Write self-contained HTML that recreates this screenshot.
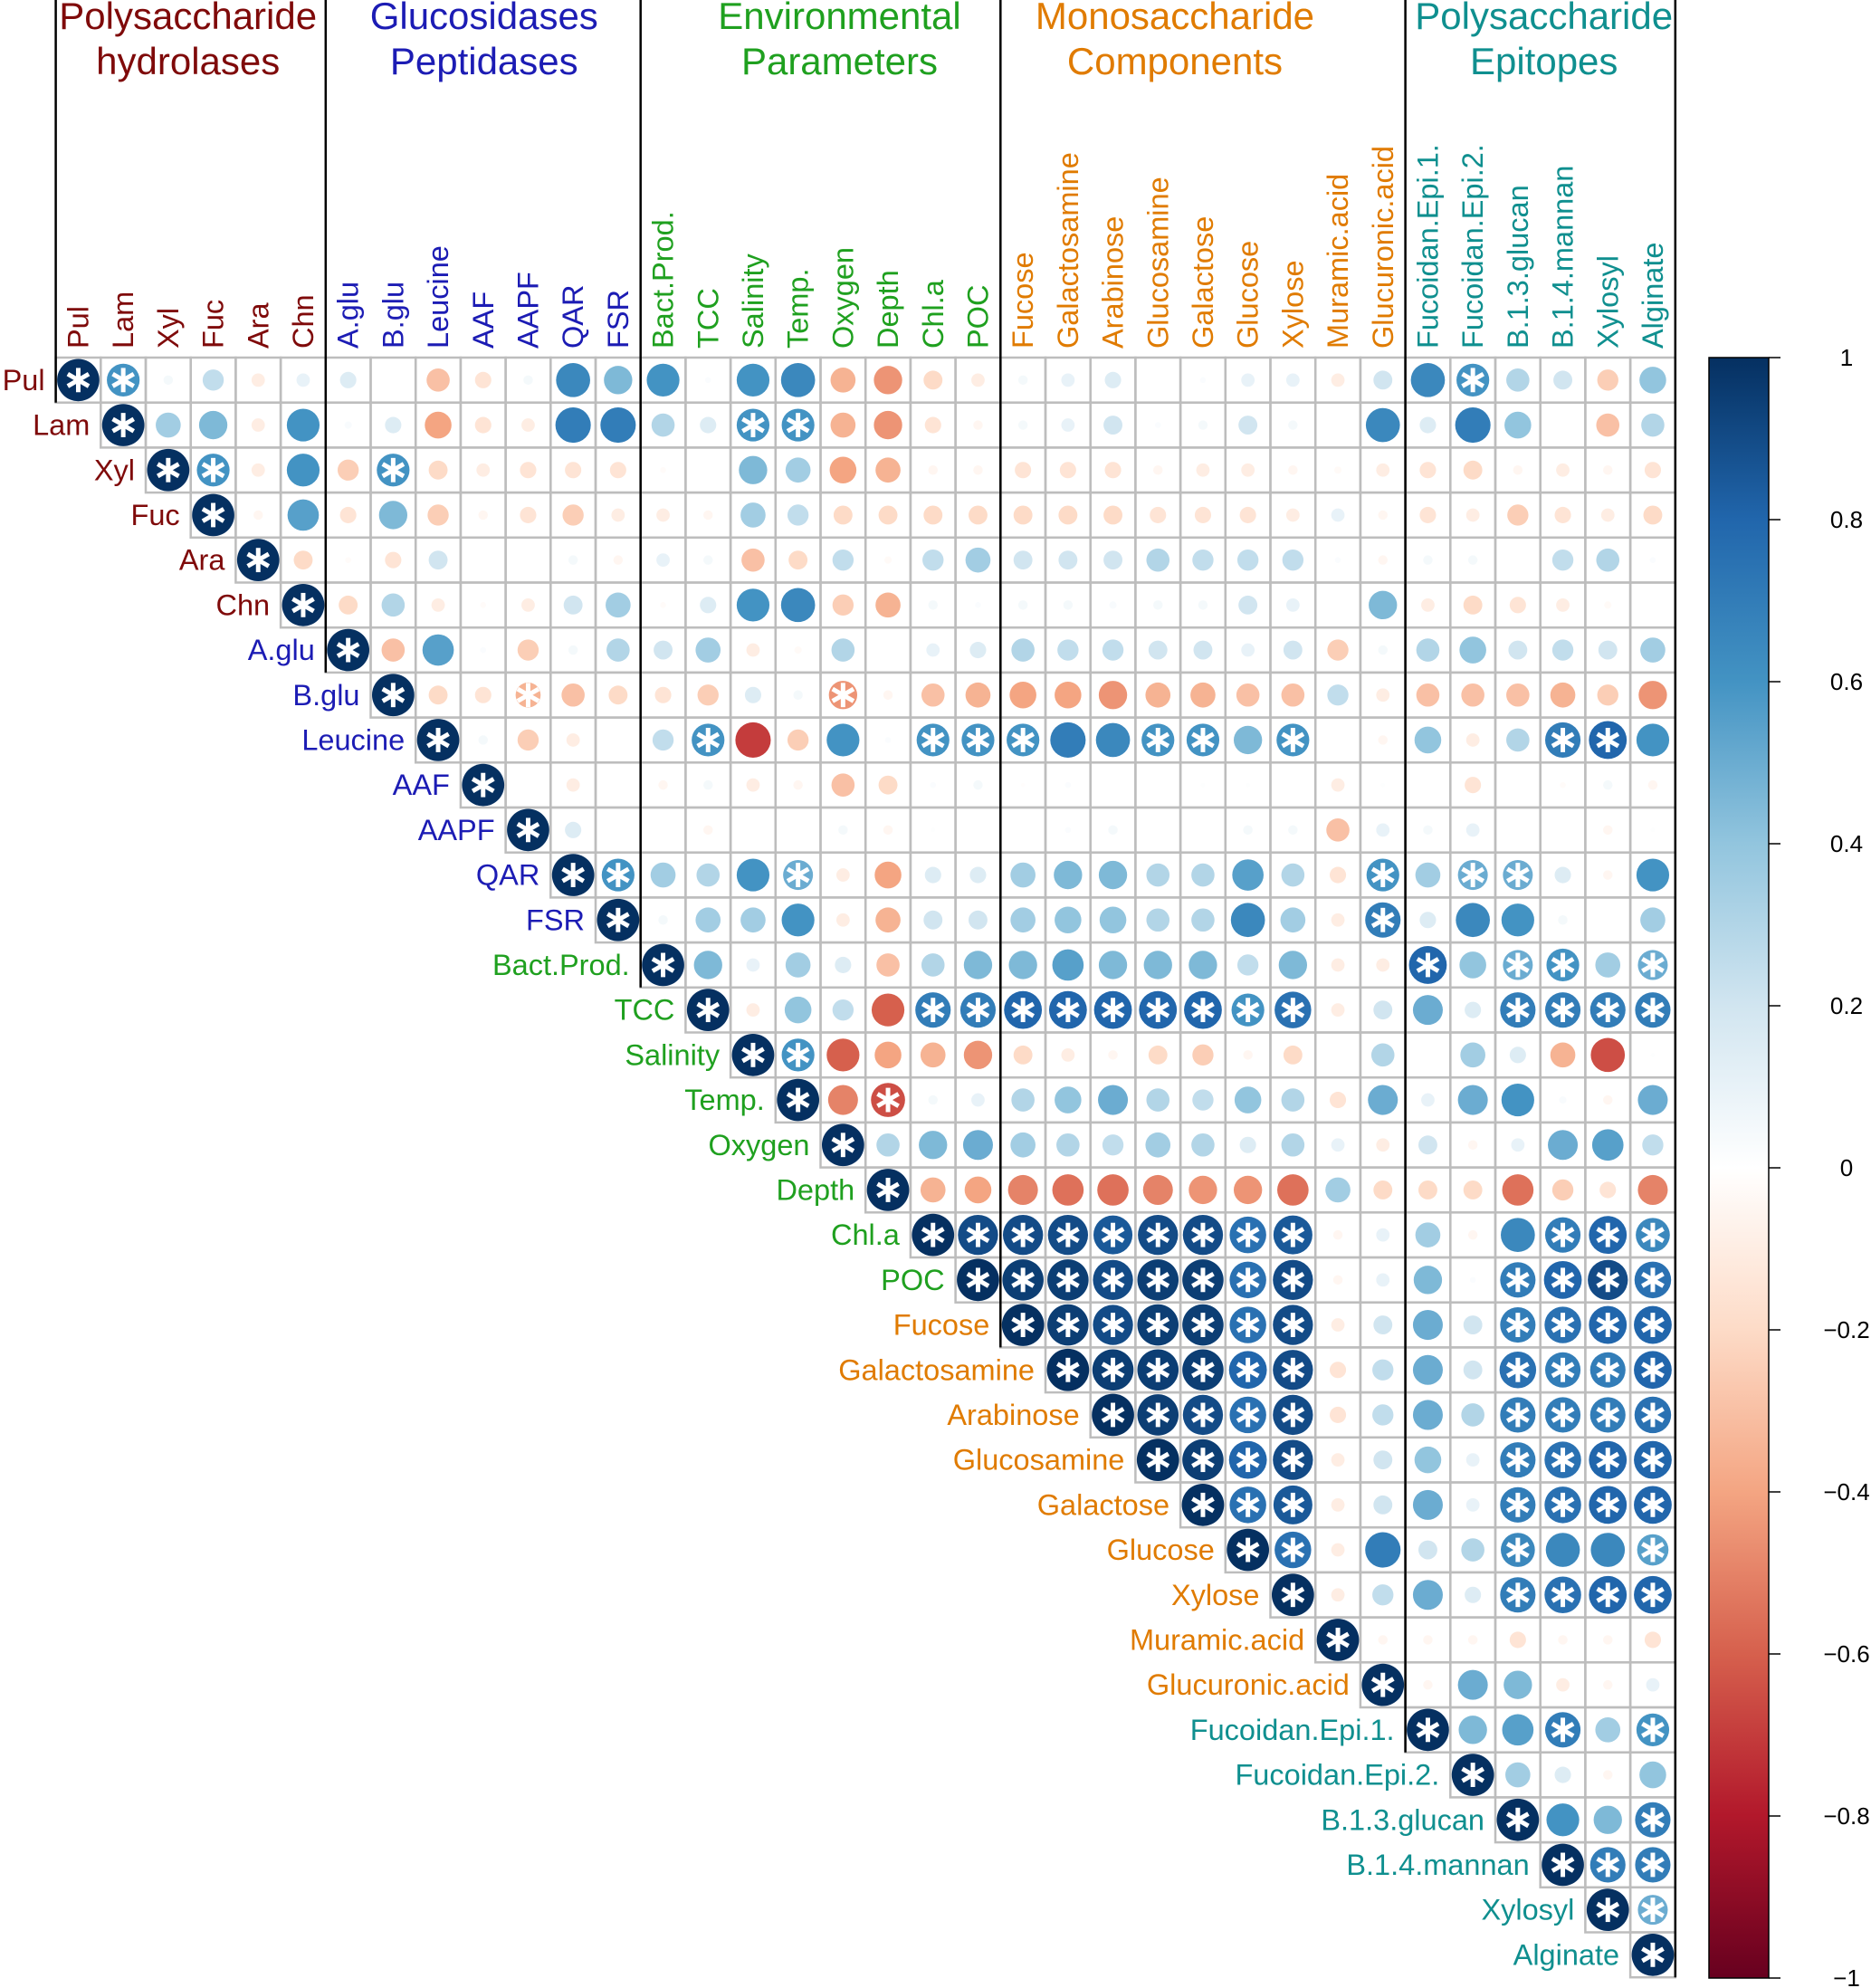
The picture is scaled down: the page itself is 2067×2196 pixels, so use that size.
<!DOCTYPE html>
<html><head><meta charset="utf-8"><style>
html,body{margin:0;padding:0;background:#fff;}
svg{display:block;font-family:"Liberation Sans",Arial,sans-serif;}
</style></head><body>
<svg id="chart" width="2067" height="2196" viewBox="0 0 2067 2196" xmlns="http://www.w3.org/2000/svg"></svg>
<script>
const labels = ["Pul","Lam","Xyl","Fuc","Ara","Chn","A.glu","B.glu","Leucine","AAF","AAPF","QAR","FSR","Bact.Prod.","TCC","Salinity","Temp.","Oxygen","Depth","Chl.a","POC","Fucose","Galactosamine","Arabinose","Glucosamine","Galactose","Glucose","Xylose","Muramic.acid","Glucuronic.acid","Fucoidan.Epi.1.","Fucoidan.Epi.2.","B.1.3.glucan","B.1.4.mannan","Xylosyl","Alginate"];
const groupNames = [["Polysaccharide","hydrolases"],["Glucosidases","Peptidases"],["Environmental","Parameters"],["Monosaccharide","Components"],["Polysaccharide","Epitopes"]];
const groupStarts = [0,6,13,21,30,36];
const groupColors = ["#7f0a0a","#1c1cb4","#1fa01f","#e07b00","#0f8f8f"];
const colorTicks = [1,0.8,0.6,0.4,0.2,0,-0.2,-0.4,-0.6,-0.8,-1];
// upper-triangle correlations, row i lists columns i+1..35
const corrRows = [
[0.6,0.05,0.25,-0.1,0.1,0.15,0,-0.3,-0.15,0.05,0.65,0.45,0.6,0.02,0.6,0.65,-0.35,-0.45,-0.2,-0.1,0.05,0.1,0.15,0,0.02,0.1,0.1,-0.1,0.2,0.65,0.6,0.3,0.2,-0.25,0.4],
[0.35,0.45,-0.1,0.6,0.03,0.15,-0.4,-0.15,-0.1,0.7,0.7,0.3,0.15,0.6,0.6,-0.35,-0.45,-0.15,-0.05,0.05,0.1,0.2,0.02,0.05,0.2,0.05,0,0.65,0.15,0.7,0.4,0,-0.3,0.3],
[0.6,-0.1,0.6,-0.25,0.6,-0.2,-0.1,-0.15,-0.15,-0.15,-0.02,0,0.45,0.35,-0.4,-0.35,-0.05,-0.05,-0.15,-0.15,-0.15,-0.05,-0.1,-0.1,-0.05,-0.03,-0.1,-0.15,-0.2,-0.05,-0.1,-0.05,-0.15],
[-0.05,0.55,-0.15,0.45,-0.25,-0.05,-0.15,-0.25,-0.1,-0.1,-0.05,0.35,0.25,-0.2,-0.2,-0.2,-0.2,-0.2,-0.2,-0.2,-0.15,-0.15,-0.15,-0.1,0.1,-0.05,-0.15,-0.1,-0.25,-0.15,-0.1,-0.2],
[-0.2,-0.02,-0.15,0.2,0,0,0.05,-0.05,0.1,0.05,-0.3,-0.2,0.25,-0.03,0.25,0.35,0.2,0.2,0.2,0.3,0.25,0.25,0.25,0.02,-0.05,0.05,0.05,0,0.25,0.3,0.02],
[-0.2,0.3,-0.1,-0.02,-0.1,0.2,0.35,-0.02,0.15,0.6,0.65,-0.25,-0.35,0.05,0.02,0.05,0.05,0.03,0.05,0.05,0.2,0.1,0,0.45,-0.1,-0.2,-0.15,-0.1,-0.03,0],
[-0.3,0.55,0.02,-0.25,0.05,0.3,0.2,0.35,-0.1,-0.03,0.3,0,0.1,0.15,0.3,0.25,0.25,0.2,0.2,0.1,0.2,-0.25,0.05,0.3,0.4,0.2,0.25,0.2,0.35],
[-0.2,-0.15,-0.35,-0.3,-0.2,-0.15,-0.25,0.15,0.05,-0.45,-0.05,-0.3,-0.35,-0.4,-0.4,-0.45,-0.35,-0.35,-0.3,-0.3,0.25,-0.1,-0.3,-0.3,-0.3,-0.35,-0.25,-0.45],
[0.05,-0.25,-0.1,0,0.25,0.6,-0.7,-0.25,0.6,0.02,0.6,0.6,0.6,0.7,0.65,0.6,0.6,0.45,0.6,0,-0.05,0.4,-0.1,0.3,0.7,0.8,0.6],
[0,-0.1,0,-0.05,0.05,-0.1,-0.05,-0.3,-0.2,0.02,0.05,-0.01,0.02,0,0,0.01,0.01,0,-0.1,0.01,0,-0.15,0,-0.02,0.05,-0.05],
[0.15,0,0,-0.05,0,0,0.05,-0.05,0.01,0,0,0.02,0.05,0,0,0.05,0.05,-0.3,0.1,0.05,0.1,0,0,-0.05,0.01],
[0.6,0.35,0.3,0.6,0.5,-0.1,-0.4,0.15,0.15,0.35,0.45,0.45,0.3,0.3,0.55,0.3,-0.15,0.6,0.35,0.5,0.5,0.15,-0.05,0.6],
[0.05,0.35,0.35,0.6,-0.1,-0.35,0.2,0.2,0.35,0.4,0.4,0.3,0.3,0.65,0.35,-0.1,0.7,0.15,0.65,0.6,0.05,0,0.35],
[0.45,0.1,0.35,0.15,-0.3,0.3,0.45,0.45,0.55,0.45,0.45,0.45,0.25,0.45,-0.1,-0.1,0.8,0.4,0.5,0.6,0.35,0.5],
[-0.1,0.4,0.25,-0.6,0.7,0.7,0.8,0.8,0.8,0.8,0.8,0.6,0.75,-0.1,0.2,0.5,0.15,0.7,0.7,0.7,0.7],
[0.6,-0.6,-0.4,-0.35,-0.45,-0.2,-0.1,-0.05,-0.2,-0.25,-0.05,-0.2,0,0.3,0,0.35,0.15,-0.35,-0.65,0.01],
[-0.5,-0.65,0.05,0.1,0.3,0.4,0.5,0.3,0.25,0.4,0.3,-0.15,0.5,0.1,0.5,0.6,0.03,-0.05,0.5],
[0.3,0.45,0.5,0.35,0.3,0.25,0.35,0.3,0.15,0.3,0.1,-0.1,0.2,-0.05,0.1,0.5,0.55,0.25],
[-0.35,-0.4,-0.5,-0.55,-0.55,-0.5,-0.45,-0.45,-0.55,0.35,-0.2,-0.2,-0.2,-0.55,-0.25,-0.15,-0.5],
[0.9,0.9,0.9,0.85,0.9,0.9,0.75,0.85,-0.05,0.1,0.35,-0.05,0.65,0.7,0.8,0.65],
[0.95,0.95,0.9,0.95,0.95,0.75,0.9,-0.05,0.1,0.45,0.02,0.7,0.8,0.9,0.75],
[0.95,0.9,0.95,0.95,0.75,0.9,-0.1,0.2,0.5,0.2,0.7,0.75,0.8,0.8],
[0.95,0.95,0.95,0.8,0.9,-0.15,0.25,0.5,0.2,0.75,0.7,0.7,0.8],
[0.95,0.9,0.75,0.9,-0.15,0.25,0.5,0.3,0.7,0.7,0.7,0.75],
[0.95,0.8,0.9,-0.1,0.2,0.4,0.1,0.7,0.75,0.8,0.8],
[0.75,0.85,-0.1,0.2,0.5,0.1,0.7,0.75,0.8,0.8],
[0.75,-0.1,0.7,0.2,0.3,0.65,0.65,0.65,0.55],
[-0.1,0.25,0.5,0.15,0.7,0.75,0.8,0.8],
[-0.05,-0.05,-0.05,-0.15,-0.05,-0.05,-0.15],
[-0.05,0.5,0.45,-0.1,-0.05,0.1],
[0.45,0.55,0.7,0.35,0.6],
[0.35,0.15,-0.05,0.4],
[0.6,0.45,0.7],
[0.7,0.7],
[0.5],
[]
];
// significant cells (column indices) per row, diagonal always significant
const sigRows = [
[1,31],[15,16],[3,7],[],[],[],[],[10,17],[14,19,20,21,24,25,27,33,34],[],[],
[12,16,29,31,32],[29],[30,32,33,35],[19,20,21,22,23,24,25,26,27,32,33,34,35],[16],[18],[],[],
[20,21,22,23,24,25,26,27,33,34,35],[21,22,23,24,25,26,27,32,33,34,35],[22,23,24,25,26,27,32,33,34,35],
[23,24,25,26,27,32,33,34,35],[24,25,26,27,32,33,34,35],[25,26,27,32,33,34,35],[26,27,32,33,34,35],
[27,32,35],[32,33,34,35],[],[],[33,35],[],[35],[34,35],[35],[]
];

const NS="http://www.w3.org/2000/svg";
const svg=document.getElementById('chart');
const X0=61.6, Y0=395, C=49.7, N=labels.length;
const xs=j=>X0+j*C, ys=i=>Y0+i*C;
const headerOffsets=[-3,1,21,-31,4];
const stops=[[-1,[103,0,31]],[-0.8,[178,24,43]],[-0.6,[214,96,77]],[-0.4,[244,165,130]],[-0.2,[253,219,199]],[0,[255,255,255]],[0.2,[209,229,240]],[0.4,[146,197,222]],[0.6,[67,147,195]],[0.8,[33,102,172]],[1,[5,48,97]]];
function col(v){v=Math.max(-1,Math.min(1,v));for(let k=0;k<stops.length-1;k++){const a=stops[k],b=stops[k+1];if(v<=b[0]){const t=(v-a[0])/(b[0]-a[0]);const c=a[1].map((x,m)=>Math.round(x+(b[1][m]-x)*t));return `rgb(${c[0]},${c[1]},${c[2]})`;}}return 'rgb(5,48,97)';}
function mk(tag,attrs,parent){const e=document.createElementNS(NS,tag);for(const k in attrs)e.setAttribute(k,attrs[k]);(parent||svg).appendChild(e);return e;}
function groupOf(i){for(let g=0;g<5;g++)if(i<groupStarts[g+1])return g;return 4;}

const gridG=mk('g',{});


for(let i=0;i<N;i++)for(let j=i;j<N;j++){
  mk('rect',{x:xs(j),y:ys(i),width:C,height:C,fill:'none',stroke:'#bdbdbd','stroke-width':2.5},gridG);
}
const cellG=mk('g',{});


for(let i=0;i<N;i++){
  for(let j=i;j<N;j++){
    const v = j===i?1:corrRows[i][j-i-1];
    if(v===undefined)continue;
    const sig = j===i || sigRows[i].indexOf(j)>=0;
    const cx=xs(j)+C/2, cy=ys(i)+C/2;
    const c=mk('circle',{cx:cx,cy:cy,r:0.47*C*Math.sqrt(Math.abs(v)),fill:col(v)},cellG);
    
    
    if(sig){
      const s=mk('g',{stroke:'#fff','stroke-width':C*0.1,'stroke-linecap':'butt'},cellG);
      
      
      const L=C*0.27;
      [90,30,150].forEach(a=>{const r=a*Math.PI/180;mk('line',{x1:cx-L*Math.cos(r),y1:cy-L*Math.sin(r),x2:cx+L*Math.cos(r),y2:cy+L*Math.sin(r)},s);});
    }
  }
}
for(let g=0;g<groupStarts.length;g++){
  const k=groupStarts[g];
  const yb = k>=N ? ys(N) : ys(k+1);
  const l=mk('line',{x1:xs(k),y1:0,x2:xs(k),y2:yb,stroke:'#000','stroke-width':2.5});
  
  
}
for(let i=0;i<N;i++){
  const color=groupColors[groupOf(i)];
  const cx=xs(i)+C/2;
  const t=mk('text',{x:0,y:0,transform:`translate(${cx+11},${Y0-10}) rotate(-90)`,fill:color,'font-size':32.5});
  t.textContent=labels[i];
  
  
  const r=mk('text',{x:xs(i)-12,y:ys(i)+C/2+11,fill:color,'font-size':32.5,'text-anchor':'end'});
  r.textContent=labels[i];
  
  
}
for(let g=0;g<5;g++){
  const cx=(xs(groupStarts[g])+xs(groupStarts[g+1]))/2+headerOffsets[g];
  groupNames[g].forEach((s,k)=>{
    const t=mk('text',{x:cx,y:32+k*50,fill:groupColors[g],'font-size':42,'text-anchor':'middle'});
    t.textContent=s;
    
    
  });
}
const defs=mk('defs',{});
const lg=mk('linearGradient',{id:'cb',x1:0,y1:0,x2:0,y2:1},defs);
stops.slice().reverse().forEach(s=>mk('stop',{offset:((1-s[0])/2),'stop-color':col(s[0])},lg));
const CBX=1888,CBW=66,CBT=395,CBB=2185;
const cb=mk('rect',{x:CBX,y:CBT,width:CBW,height:CBB-CBT,fill:'url(#cb)',stroke:'#000','stroke-width':1.5});


const cy=v=>CBT+(1-v)/2*(CBB-CBT);
colorTicks.forEach(v=>{
  const tk=mk('line',{x1:CBX+CBW,y1:cy(v),x2:CBX+CBW+13,y2:cy(v),stroke:'#000','stroke-width':1.5});
  
  
  const t=mk('text',{x:2040,y:cy(v)+9,'font-size':26,'text-anchor':'middle',fill:'#000'});
  t.textContent=(v<0?'\u2212':'')+String(Math.abs(v));
  
  
});
</script>
</body></html>
